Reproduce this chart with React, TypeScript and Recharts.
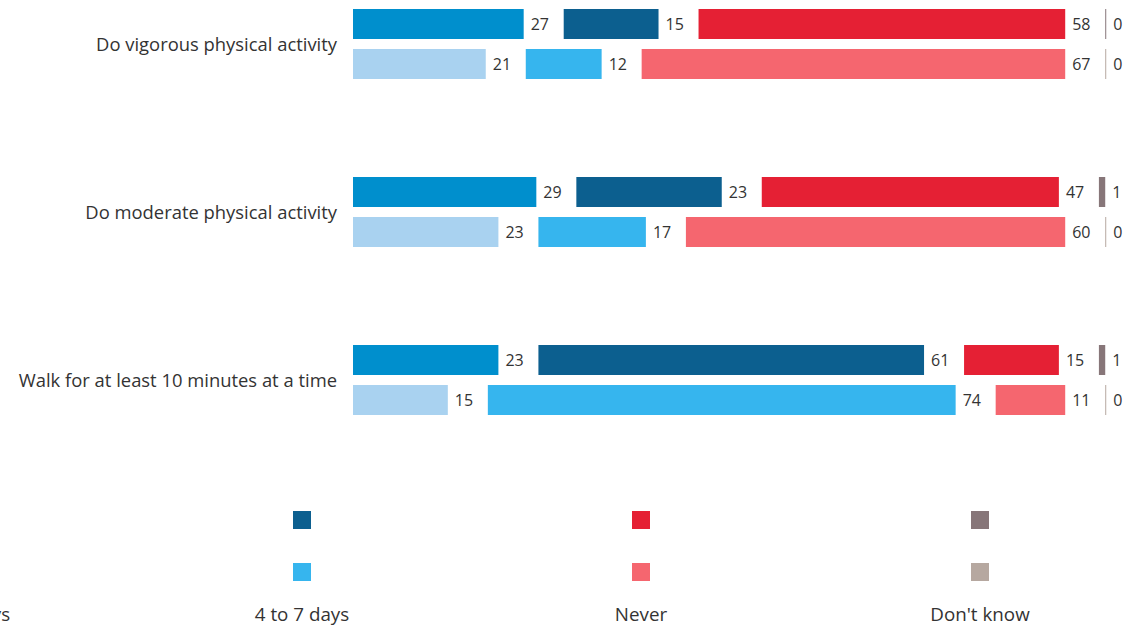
import { BarChart, Bar, XAxis, YAxis, LabelList } from 'recharts'

const categories = [
  'Do vigorous physical activity',
  'Do moderate physical activity',
  'Walk for at least 10 minutes at a time',
]
const legendLabels = ['1 to 3 days', '4 to 7 days', 'Never', "Don't know"]

// top row of each pair
const currentOneToThree = [27, 29, 23]
const currentFourToSeven = [15, 23, 61]
const currentNever = [58, 47, 15]
const currentDontKnow = [0, 1, 1]

// bottom row of each pair
const previousOneToThree = [21, 23, 15]
const previousFourToSeven = [12, 17, 74]
const previousNever = [67, 60, 11]
const previousDontKnow = [0, 0, 0]

const darkColors = ['#008fcd', '#0c5f8f', '#e52034', '#877679']
const lightColors = ['#a9d2f0', '#36b5ee', '#f5666f', '#b6a8a0']

const GAP = 6.33 // spacer so each segment has room for its label
const FONT = '"Open Sans", sans-serif'

const data = categories.map((name, i) => ({
  name,
  a0: currentOneToThree[i],
  a1: currentFourToSeven[i],
  a2: currentNever[i],
  a3: currentDontKnow[i],
  b0: previousOneToThree[i],
  b1: previousFourToSeven[i],
  b2: previousNever[i],
  b3: previousDontKnow[i],
  g1: GAP,
  g2: GAP,
  g3: GAP,
}))

function stack(prefix: string, colors: string[]) {
  const out = []
  for (let k = 0; k < 4; k++) {
    if (k > 0) {
      out.push(
        <Bar
          key={prefix + 'g' + k}
          dataKey={'g' + k}
          stackId={prefix}
          fill="transparent"
          isAnimationActive={false}
        />
      )
    }
    out.push(
      <Bar
        key={prefix + k}
        dataKey={prefix + k}
        stackId={prefix}
        fill={colors[k]}
        minPointSize={k === 3 ? 1 : 0}
        isAnimationActive={false}
      >
        <LabelList
          dataKey={prefix + k}
          position="right"
          offset={7}
          fill="#333"
          fontSize={16}
          fontFamily={FONT}
        />
      </Bar>
    )
  }
  return out
}

export default function App() {
  return (
    <div
      style={{
        position: 'fixed',
        left: 0,
        top: 0,
        width: 1135,
        height: 628,
        overflow: 'hidden',
        background: '#fff',
        fontFamily: FONT,
      }}
    >
      <div style={{ position: 'absolute', left: 0, top: -40 }}>
        <BarChart
          width={1135}
          height={504}
          data={data}
          layout="vertical"
          barSize={30}
          barGap={10}
          margin={{ top: 0, right: 0, bottom: 0, left: 0 }}
        >
          <XAxis type="number" domain={[0, 123.7]} hide />
          <YAxis
            type="category"
            dataKey="name"
            width={353}
            axisLine={false}
            tickLine={false}
            tickSize={0}
            tickMargin={16}
            tick={{ fontSize: 18.4, fill: '#333', fontFamily: FONT }}
          />
          {stack('a', darkColors)}
          {stack('b', lightColors)}
        </BarChart>
      </div>
      {legendLabels.map((label, i) => {
        const cx = -37 + i * 339
        return (
          <div key={label}>
            <div
              style={{
                position: 'absolute',
                left: cx - 9,
                top: 511,
                width: 18,
                height: 18,
                background: darkColors[i],
              }}
            />
            <div
              style={{
                position: 'absolute',
                left: cx - 9,
                top: 563,
                width: 18,
                height: 18,
                background: lightColors[i],
              }}
            />
            <div
              style={{
                position: 'absolute',
                left: cx - 100,
                top: 602,
                width: 200,
                lineHeight: '24px',
                textAlign: 'center',
                fontSize: 18.8,
                color: '#333',
              }}
            >
              {label}
            </div>
          </div>
        )
      })}
    </div>
  )
}
